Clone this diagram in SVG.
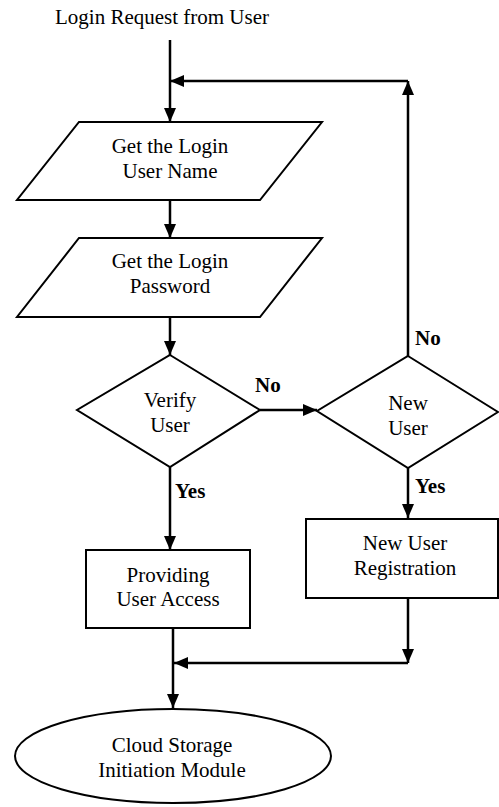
<svg xmlns="http://www.w3.org/2000/svg" width="499" height="807" viewBox="0 0 499 807" font-family="'Liberation Serif', 'Times New Roman', serif">
<style>
.s{fill:#fff;stroke:#000;stroke-width:2}
.c{fill:none;stroke:#000;stroke-width:2.5}
text{font-family:'Liberation Serif','Times New Roman',serif;font-size:21px;fill:#000;text-anchor:middle}
.b{font-weight:bold;text-anchor:start}
</style>
<defs>
<marker id="a" markerWidth="14" markerHeight="12" refX="14" refY="6" orient="auto" markerUnits="userSpaceOnUse">
<path d="M0,0 L14,6 L0,12 Z" fill="#000"/>
</marker>
</defs>
<rect width="499" height="807" fill="#fff"/>
<g id="connectors">
<line class="c" x1="170" y1="40" x2="170" y2="122" marker-end="url(#a)"/>
<polyline class="c" points="408,81 170,81" marker-end="url(#a)"/>
<line class="c" x1="408" y1="356" x2="408" y2="81" marker-end="url(#a)"/>
<line class="c" x1="170" y1="200" x2="170" y2="238" marker-end="url(#a)"/>
<line class="c" x1="170" y1="317" x2="170" y2="355" marker-end="url(#a)"/>
<line class="c" x1="260" y1="410" x2="317" y2="410" marker-end="url(#a)"/>
<line class="c" x1="170" y1="467" x2="170" y2="550" marker-end="url(#a)"/>
<line class="c" x1="408" y1="468" x2="408" y2="518" marker-end="url(#a)"/>
<line class="c" x1="408" y1="598" x2="408" y2="663" marker-end="url(#a)"/>
<line class="c" x1="408" y1="663" x2="174" y2="663" marker-end="url(#a)"/>
<line class="c" x1="173" y1="628" x2="173" y2="708" marker-end="url(#a)"/>
</g>
<text x="162" y="24">Login Request from User</text>
<g id="username">
<polygon class="s" points="79,122 322,122 260,200 17,200"/>
<text x="170" y="153">Get the Login</text>
<text x="170" y="178">User Name</text>
</g>
<g id="password">
<polygon class="s" points="79,238 322,238 260,317 17,317"/>
<text x="170" y="268">Get the Login</text>
<text x="170" y="293">Password</text>
</g>
<g id="verify">
<polygon class="s" points="170,355 260,410 170,467 77,410"/>
<text x="170" y="407">Verify</text>
<text x="170" y="432">User</text>
</g>
<g id="newuser">
<polygon class="s" points="408,356 498,412 408,468 317,411"/>
<text x="408" y="410">New</text>
<text x="408" y="435">User</text>
</g>
<g id="registration">
<rect class="s" x="306" y="519" width="192" height="79"/>
<text x="405" y="550">New User</text>
<text x="405" y="575">Registration</text>
</g>
<g id="access">
<rect class="s" x="86" y="550" width="164" height="78"/>
<text x="168" y="582">Providing</text>
<text x="168" y="606">User Access</text>
</g>
<g id="cloud">
<ellipse class="s" cx="173" cy="756" rx="158" ry="47"/>
<text x="172" y="752">Cloud Storage</text>
<text x="172" y="777">Initiation Module</text>
</g>
<g id="labels">
<text class="b" x="255" y="392">No</text>
<text class="b" x="415" y="345">No</text>
<text class="b" x="175" y="498">Yes</text>
<text class="b" x="415" y="493">Yes</text>
</g>
</svg>
